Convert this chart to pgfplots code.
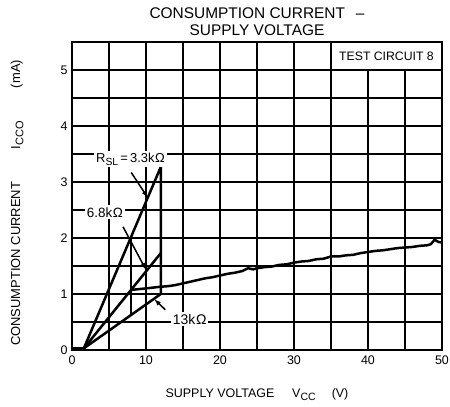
\documentclass[border=0pt]{standalone}
\usepackage{fontspec}
\setmainfont{Liberation Sans}
\usepackage{graphicx}
\usepackage{pgfplots}
\pgfplotsset{compat=1.18}
\usetikzlibrary{arrows.meta}
\newcommand{\lsub}[2][0.85]{\raisebox{-0.45ex}{\scalebox{#1}{#2}}}

\begin{document}
\begin{tikzpicture}
\begin{axis}[
  scale only axis, width=370bp, height=308bp,
  xmin=0, xmax=50, ymin=0, ymax=5.5,
  xtick={0,10,...,50}, ytick={0,1,...,5},
  tick style={draw=none},
  axis line style={line width=2.4bp},
  /pgf/number format/assume math mode=true,
  ticklabel style={font=\fontsize{12.5}{13}\selectfont},
  xticklabel style={yshift=-2pt},
  yticklabel style={xshift=-1pt},
]
% grid (every 5 V and every 0.5 mA)
\pgfplotsinvokeforeach{5,10,15,20,25,30,35,40,45}{
  \draw[black, line width=2.1bp] (axis cs:#1,0) -- (axis cs:#1,5.5);
}
\pgfplotsinvokeforeach{0.5,1,1.5,2,2.5,3,3.5,4,4.5,5}{
  \draw[black, line width=2.1bp] (axis cs:0,#1) -- (axis cs:50,#1);
}
% base and load lines
\addplot[black, line width=2.5bp, line join=round] coordinates {
  (0,0.03) (1.6,0.03) (12,3.27) (12,1.0) (1.6,0.03)
};
\addplot[black, line width=2.5bp, line join=round] coordinates {
  (1.6,0.03) (12,1.73)
};
\addplot[black, line width=2.5bp] coordinates {
  (8,2.02) (8,0.63)
};
% measured consumption current
\addplot[black, line width=2.5bp, line join=round] coordinates {
  (8,1.07) (8.5,1.08) (10,1.10) (12,1.13) (13,1.14) (14,1.16) (15,1.19)
  (16,1.22) (17,1.25) (18,1.28) (19,1.30) (20,1.33) (21,1.36) (22,1.38)
  (23,1.41) (23.8,1.46) (24.5,1.44) (25,1.46) (26,1.48) (27,1.49)
  (28,1.52) (29,1.53) (30,1.56) (31,1.58) (32,1.59) (33,1.62) (34,1.63)
  (35,1.67) (36,1.67) (37,1.69) (38,1.70) (39,1.73) (40,1.75) (41,1.77)
  (42,1.78) (43,1.80) (44,1.82) (45,1.83) (46,1.84) (47,1.86) (48,1.87)
  (48.5,1.89) (49,1.97) (49.5,1.93) (50,1.92)
};
% annotations
\node[fill=white, inner sep=2pt, font=\fontsize{13}{14}\selectfont]
  at (axis cs:7.9,3.41) {R\lsub[0.8]{SL}\,=\,3.3k\kern0.5ptΩ};
\draw[line width=1.5bp, -{Latex[length=7pt,width=5pt]}]
  (axis cs:8.0,3.17) -- (axis cs:10.25,2.72);
\node[fill=white, inner sep=2pt, font=\fontsize{13.5}{14}\selectfont]
  at (axis cs:4.45,2.46) {6.8k\kern0.5ptΩ};
\draw[line width=1.5bp, -{Latex[length=7pt,width=5pt]}]
  (axis cs:6.9,2.2) -- (axis cs:10.0,1.43);
\node[fill=white, inner sep=2pt, font=\fontsize{14}{14}\selectfont]
  at (axis cs:15.9,0.55) {13k\kern0.7ptΩ};
\draw[line width=1.5bp, -{Latex[length=7pt,width=5pt]}]
  (axis cs:12.6,0.72) -- (axis cs:11.1,0.91);
\draw[fill=white, line width=2.1bp] (axis cs:35,5) rectangle (axis cs:50,5.5);
\node[font=\fontsize{12.3}{13}\selectfont] at (axis cs:42.5,5.25) {TEST CIRCUIT 8};
\end{axis}
\node[anchor=base, font=\fontsize{15.5}{16}\selectfont] at (185bp,331.5bp)
  {CONSUMPTION CURRENT\hspace{0.7em}–};
\node[anchor=base, font=\fontsize{15.5}{16}\selectfont] at (185bp,314.5bp)
  {SUPPLY VOLTAGE};
\node[anchor=base, font=\fontsize{12.5}{13}\selectfont] at (185bp,-47.2bp)
  {SUPPLY VOLTAGE\hspace{18pt}V\lsub{CC}\hspace{16pt}(V)};
\node[rotate=90, anchor=base, font=\fontsize{13}{13}\selectfont] at (-51.8bp,147bp)
  {CONSUMPTION CURRENT\hspace{33pt}I\lsub{CCO}\hspace{33pt}(mA)};
\pgfresetboundingbox
\useasboundingbox (-72bp,-57bp) rectangle (378bp,350bp);
\end{tikzpicture}
\end{document}
